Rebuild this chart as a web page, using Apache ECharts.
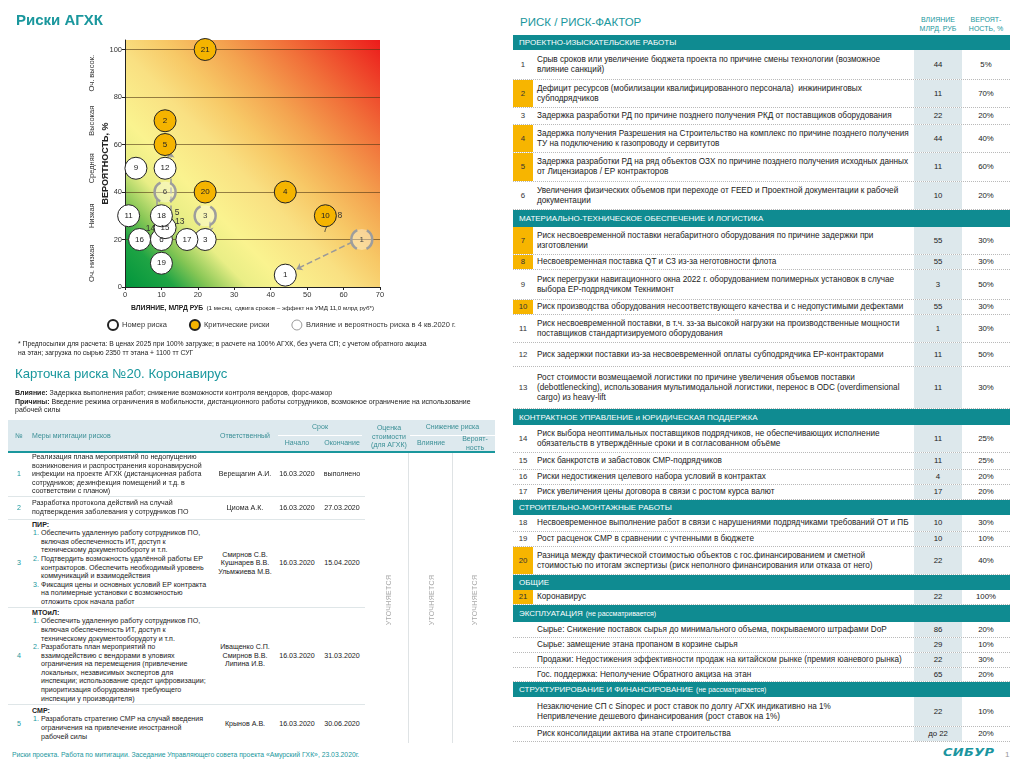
<!DOCTYPE html>
<html><head><meta charset="utf-8">
<script src="https://cdn.jsdelivr.net/npm/echarts@6/dist/echarts.min.js"></script>
<style>
html,body{margin:0;padding:0;background:#fff;}
body{width:1024px;height:767px;position:relative;overflow:hidden;font-family:"Liberation Sans",Arial,sans-serif;color:#222;}
.abs{position:absolute;}
#chart{position:absolute;left:0;top:0;width:500px;height:332px;}
.teal{color:#1a979d;}
#rt{position:absolute;left:513px;top:35px;width:497px;}
.r{display:flex;box-sizing:border-box;border-bottom:1px dotted #b9b9b9;font-size:8.2px;line-height:10px;}
.r .n{width:20px;display:flex;align-items:center;justify-content:center;color:#333;font-size:7.8px;}
.r .n.c{background:#f7b500;}
.r .t{flex:1;display:flex;align-items:center;padding-left:4px;padding-right:4px;}
.r .i{width:48px;display:flex;align-items:center;justify-content:center;background:#dde8ec;font-size:7.8px;}
.r .p{width:48px;display:flex;align-items:center;justify-content:center;font-size:7.8px;}
.s{background:#0f8b91;color:#fff;font-size:8px;padding-left:6px;box-sizing:border-box;display:flex;align-items:center;}
.s small{font-size:7px;margin-left:3px;}
.lt{font-size:7.1px;line-height:8.6px;}
.hd{position:absolute;color:#3a8f96;font-size:7px;line-height:8.5px;text-align:center;}
.row{position:absolute;left:8px;width:357px;box-sizing:border-box;border-bottom:1px solid #dfe6e8;}
.cell{position:absolute;top:0;bottom:0;display:flex;align-items:center;}
.cc{justify-content:center;text-align:center;}
ol{margin:0;padding-left:9px;padding-right:11px;}
ol li::marker{color:#1a979d;}
.vt{position:absolute;top:600px;color:#a8a8a8;font-size:7px;letter-spacing:0.3px;transform:translate(-50%,-50%) rotate(-90deg);white-space:nowrap;}
</style></head>
<body>
<div id="chart"></div>

<div class="abs" style="left:18px;top:339px;font-size:6.8px;line-height:9px;color:#222;">* Предпосылки для расчета: В ценах 2025 при 100% загрузке; в расчете на 100% АГХК, без учета СП; с учетом обратного акциза<br>на этан; загрузка по сырью 2350 тт этана + 1100 тт СУГ</div>

<div class="abs teal" style="left:15px;top:366px;font-size:13.2px;">Карточка риска №20. Коронавирус</div>
<div class="abs" style="left:15px;top:389px;width:480px;font-size:7px;line-height:8.7px;"><b>Влияние:</b> Задержка выполнения работ; снижение возможности контроля вендоров, форс-мажор<br><b>Причины:</b> Введение режима ограничения в мобильности, дистанционного работы сотрудников, возможное ограничение на использование рабочей силы</div>

<!-- left table header -->
<div class="abs" style="left:8px;top:420px;width:487px;height:31px;background:#dde9ee;"></div>
<div class="abs" style="left:8px;top:451px;width:487px;height:2px;background:#1a979d;"></div>
<div class="abs" style="left:278px;top:435px;width:84px;height:1px;background:#fff;"></div>
<div class="abs" style="left:410px;top:435px;width:85px;height:1px;background:#fff;"></div>
<div class="hd" style="left:9px;width:20px;top:432px;">№</div>
<div class="hd" style="left:32px;top:432px;text-align:left;">Меры митигации рисков</div>
<div class="hd" style="left:215px;width:60px;top:432px;">Ответственный</div>
<div class="hd" style="left:278px;width:84px;top:423px;">Срок</div>
<div class="hd" style="left:277px;width:40px;top:439px;">Начало</div>
<div class="hd" style="left:318px;width:48px;top:439px;">Окончание</div>
<div class="hd" style="left:366px;width:46px;top:424px;">Оценка<br>стоимости<br>(для АГХК)</div>
<div class="hd" style="left:410px;width:85px;top:423px;">Снижение риска</div>
<div class="hd" style="left:410px;width:42px;top:439px;">Влияние</div>
<div class="hd" style="left:454px;width:42px;top:435px;">Вероят-<br>ность</div>

<!-- left table body -->
<div id="lt"></div>
<div class="abs" style="left:408px;top:453px;width:1px;height:290px;background:#dfe3e5;"></div>
<div class="abs" style="left:452px;top:453px;width:1px;height:290px;background:#dfe3e5;"></div>
<div class="vt" style="left:388px;">УТОЧНЯЕТСЯ</div>
<div class="vt" style="left:431px;">УТОЧНЯЕТСЯ</div>
<div class="vt" style="left:474px;">УТОЧНЯЕТСЯ</div>

<div class="abs teal" style="left:12px;top:751px;font-size:6.8px;">Риски проекта. Работа по митигации. Заседание Управляющего совета проекта «Амурский ГХК», 23.03.2020г.</div>

<!-- right panel -->
<div class="abs teal" style="left:520px;top:16px;font-size:11.5px;">РИСК / РИСК-ФАКТОР</div>
<div class="abs teal" style="left:914px;width:48px;top:16px;font-size:7px;line-height:8.5px;text-align:center;">ВЛИЯНИЕ<br>МЛРД. РУБ</div>
<div class="abs teal" style="left:962px;width:48px;top:16px;font-size:7px;line-height:8.5px;text-align:center;">ВЕРОЯТ-<br>НОСТЬ, %</div>
<div id="rt"></div>

<div class="abs" style="left:943px;top:745px;font-size:13px;font-weight:900;font-style:italic;color:#1b95a0;font-family:'DejaVu Sans',sans-serif;letter-spacing:0.3px;transform:scaleY(0.85);">СИБУР</div>
<div class="abs" style="left:1005px;top:750px;font-size:8px;color:#999;">1</div>

<script>
// ---------- chart data ----------
const probBands = ['Оч. низкая', 'Низкая', 'Средняя', 'Высокая', 'Оч. высок.'];
const probBandCenters = [10, 30, 50, 70, 90];
// [impact, probability, risk number]
const regularRisks = [[44,5,'1'],[22,20,'3'],[10,20,'6'],[3,50,'9'],[1,30,'11'],[11,50,'12'],[11,25,'15'],[4,20,'16'],[17,20,'17'],[10,30,'18'],[10,10,'19']];
const criticalRisks = [[11,70,'2'],[44,40,'4'],[11,60,'5'],[55,30,'10'],[22,40,'20'],[22,100,'21']];
const previousRisks = [[65,20,'1'],[22,30,'3'],[11,40,'6']];
const extraLabels = [[59,30,'8'],[55,24,'7'],[14.3,31.5,'5'],[15,27.5,'13'],[7,24.5,'14']];
const moves = [[[62.5,19],[47,7.5]],[[12.5,28],[12.5,57]],[[8.8,37],[8.8,26.5]],[[23.2,27.5],[23.2,22.5]]];

const chart = echarts.init(document.getElementById('chart'));
const teal = '#1a979d';
const circleLabel = {show:true, position:'inside', formatter:p=>p.value[2], fontSize:8, color:'#222'};
chart.setOption({
  animation:false,
  textStyle:{fontFamily:'Liberation Sans, Arial, sans-serif'},
  title:{text:'Риски АГХК', left:11, top:8, textStyle:{fontSize:15, fontWeight:'bold', color:teal}},
  grid:{left:125, top:40, width:255, height:247, show:true, borderWidth:0,
    backgroundColor:{type:'linear', x:0, y:1, x2:1, y2:0, colorStops:[
      {offset:0, color:'#00953c'},{offset:0.1, color:'#1fa444'},{offset:0.17, color:'#86c655'},
      {offset:0.25, color:'#e9ee86'},{offset:0.33, color:'#faf38f'},{offset:0.46, color:'#f9e082'},
      {offset:0.56, color:'#f7c866'},{offset:0.67, color:'#f4a450'},{offset:0.8, color:'#f1713a'},{offset:0.91, color:'#ee4229'},{offset:1, color:'#ec1b1b'}]}},
  legend:{left:102, top:314, itemWidth:10, itemHeight:10, itemGap:22, selectedMode:false,
    textStyle:{fontSize:7.5, color:'#333', padding:[0,0,0,-1]},
    data:[{name:'Номер риска'},{name:'Критические риски'},
      {name:'Влияние и вероятность риска в 4 кв.2020 г.', itemStyle:{borderType:'solid', borderWidth:1, borderColor:'#999', color:'#fff'}}]},
  xAxis:{type:'value', min:0, max:70, interval:10,
    axisLine:{lineStyle:{color:'#222'}}, axisTick:{show:true, length:3, lineStyle:{color:'#222'}},
    splitLine:{show:false}, axisLabel:{fontSize:7.5, color:'#333', margin:4},
    name:'{b|ВЛИЯНИЕ, МЛРД РУБ} {n|(1 месяц  сдвига сроков – эффект на УМД 11,0 млрд руб*)}',
    nameLocation:'middle', nameGap:15, nameMoveOverlap:false,
    nameTextStyle:{rich:{b:{fontSize:6.8, fontWeight:'bold', color:'#222'}, n:{fontSize:6.2, color:'#222'}}}},
  yAxis:[
    {type:'value', min:0, max:104, interval:20,
     axisLine:{show:true, lineStyle:{color:'#222'}}, axisTick:{show:true, length:3, lineStyle:{color:'#222'}},
     axisLabel:{fontSize:7.5, color:'#333', margin:3, showMaxLabel:false, formatter:v=>(v%20===0?String(v):'')},
     splitLine:{show:true, showMaxLine:false, lineStyle:{color:'rgba(80,55,20,0.6)', width:1}},
     name:'ВЕРОЯТНОСТЬ, %', nameLocation:'middle', nameGap:15, nameRotate:90, nameMoveOverlap:false,
     nameTextStyle:{fontSize:9, fontWeight:'bold', color:'#222'}},
    {type:'value', min:0, max:104, interval:10, position:'left', offset:29,
     axisLine:{show:false}, axisTick:{show:false}, splitLine:{show:false},
     axisLabel:{rotate:90, margin:0, fontSize:7.5, color:'#333', showMaxLabel:false,
       formatter:v=>{const k=probBandCenters.indexOf(v); return k>=0?probBands[k]:'';}}}
  ],
  series:[
    {type:'lines', coordinateSystem:'cartesian2d', silent:true, z:2,
     symbol:['none','arrow'], symbolSize:6,
     lineStyle:{color:'#9a9a9a', width:1.5, type:'dashed', opacity:1},
     data:moves.map(c=>({coords:c}))},
    {name:'Влияние и вероятность риска в 4 кв.2020 г.', type:'scatter', clip:false, z:3, symbolSize:21,
     itemStyle:{color:'rgba(255,255,255,0.35)', borderColor:'#9d9d9d', borderWidth:2.5, borderType:[23,10], borderDashOffset:11.5, opacity:1},
     label:Object.assign({}, circleLabel, {color:'#444'}), data:previousRisks},
    {name:'Номер риска', type:'scatter', clip:false, z:4, symbolSize:22,
     itemStyle:{color:'#fff', borderColor:'#222', borderWidth:1, opacity:1},
     label:circleLabel, data:regularRisks},
    {name:'Критические риски', type:'scatter', clip:false, z:4, symbolSize:22,
     itemStyle:{color:'#f5b400', borderColor:'#222', borderWidth:1, opacity:1},
     label:circleLabel, data:criticalRisks},
    {type:'scatter', clip:false, z:5, symbolSize:2, itemStyle:{color:'rgba(0,0,0,0)', borderWidth:0}, silent:true,
     label:{show:true, position:'inside', formatter:p=>p.value[2], fontSize:8.5, color:'#333', opacity:1}, data:extraLabels}
  ]
});

// ---------- right risk table ----------
const riskRows = [
 ['s','ПРОЕКТНО-ИЗЫСКАТЕЛЬСКИЕ РАБОТЫ','',15],
 ['1','Срыв сроков или увеличение бюджета проекта по причине смены технологии (возможное влияние санкций)','44','5%',30,0],
 ['2','Дефицит ресурсов (мобилизации квалифицированного персонала)&nbsp; инжиниринговых субподрядчиков','11','70%',28,1],
 ['3','Задержка разработки РД по причине позднего получения РКД от поставщиков оборудования','22','20%',17,0],
 ['4','Задержка получения Разрешения на Строительство на комплекс по причине позднего получения ТУ на подключению к газопроводу и сервитутов','44','40%',28,1],
 ['5','Задержка разработки РД на ряд объектов ОЗХ по причине позднего получения исходных данных от Лицензиаров / ЕР контракторов','11','60%',29,1],
 ['6','Увеличения физических объемов при переходе от FEED и Проектной документации к рабочей документации','10','20%',28,0],
 ['s','МАТЕРИАЛЬНО-ТЕХНИЧЕСКОЕ ОБЕСПЕЧЕНИЕ И ЛОГИСТИКА','',17],
 ['7','Риск несвоевременной поставки негабаритного оборудования по причине задержки при изготовлении','55','30%',28,1],
 ['8','Несвоевременная поставка QT и C3 из-за неготовности флота','55','30%',15,1],
 ['9','Риск перегрузки навигационного окна 2022 г. оборудованием полимерных установок в случае выбора ЕР-подрядчиком Текнимонт','3','50%',30,0],
 ['10','Риск производства оборудования несоответствующего качества и с недопустимыми дефектами','55','30%',15,1],
 ['11','Риск несвоевременной поставки, в т.ч. зз-за высокой нагрузки на производственные мощности поставщиков стандартизируемого оборудования','1','30%',28,0],
 ['12','Риск задержки поставки из-за несвоевременной оплаты субподрядчика ЕР-контракторами','11','50%',24,0],
 ['13','Рост стоимости возмещаемой логистики по причине увеличения объемов поставки (debottlenecking), использования мультимодальной логистики, перенос в ODC (overdimensional cargo) из heavy-lift','11','30%',42,0],
 ['s','КОНТРАКТНОЕ УПРАВЛЕНИЕ и ЮРИДИЧЕСКАЯ ПОДДЕРЖКА','',16],
 ['14','Риск выбора неоптимальных поставщиков подрядчиков, не обеспечивающих исполнение обязательств в утверждённые сроки и в согласованном объёме','11','25%',28,0],
 ['15','Риск банкротств и забастовок СМР-подрядчиков','11','25%',17,0],
 ['16','Риски недостижения целевого набора условий в контрактах','4','20%',15,0],
 ['17','Риск увеличения цены договора в связи с ростом курса валют','17','20%',15,0],
 ['s','СТРОИТЕЛЬНО-МОНТАЖНЫЕ РАБОТЫ','',15],
 ['18','Несвоевременное выполнение работ в связи с нарушениями подрядчиками требований ОТ и ПБ','10','30%',17,0],
 ['19','Рост расценок СМР в сравнении с учтенными в бюджете','10','10%',15,0],
 ['20','Разница между фактической стоимостью объектов с гос.финансированием и сметной стоимостью по итогам экспертизы (риск неполного финансирования или отказа от него)','22','40%',28,1],
 ['s','ОБЩИЕ','',15],
 ['21','Коронавирус','22','100%',15,1],
 ['s','ЭКСПЛУАТАЦИЯ','(не рассматривается)',17],
 ['','Сырье: Снижение поставок сырья до минимального объема, покрываемого штрафами DoP','86','20%',16,0],
 ['','Сырье: замещение этана пропаном в корзине сырья','29','10%',15,0],
 ['','Продажи: Недостижения эффективности продаж на китайском рынке (премия юаневого рынка)','22','30%',15,0],
 ['','Гос. поддержка: Неполучение Обратного акциза на этан','65','20%',14,0],
 ['s','СТРУКТУРИРОВАНИЕ И ФИНАНСИРОВАНИЕ','(не рассматривается)',15],
 ['','Незаключение СП с Sinopec и рост ставок по долгу АГХК индикативно на 1%<br>Непривлечение дешевого финансирования (рост ставок на 1%)','22','10%',30,0],
 ['','Риск консолидации актива на этапе строительства','до 22','20%',15,0]
];
document.getElementById('rt').innerHTML = riskRows.map(r=>{
  if(r[0]==='s') return `<div class="s" style="height:${r[3]}px;">${r[1]}${r[2]?'<small>'+r[2]+'</small>':''}</div>`;
  return `<div class="r" style="height:${r[4]}px;"><div class="n${r[5]?' c':''}">${r[0]}</div><div class="t">${r[1]}</div><div class="i">${r[2]}</div><div class="p">${r[3]}</div></div>`;
}).join('');

// ---------- left mitigation table ----------
const mitRows = [
 ['1','Реализация плана мероприятий по недопущению возникновения и распространения коронавирусной инфекции на проекте АГХК (дистанционная работа сотрудников; дезинфекция помещений и т.д. в соответствии с планом)','Верещагин А.И.','16.03.2020','выполнено',453,44],
 ['2','Разработка протокола действий на случай подтверждения заболевания у сотрудников ПО','Циома А.К.','16.03.2020','27.03.2020',497,23],
 ['3','<b>ПИР:</b><ol><li>Обеспечить удаленную работу сотрудников ПО, включая обеспеченность ИТ, доступ к техническому документообороту и т.п.</li><li>Подтвердить возможность удалённой работы ЕР контракторов. Обеспечить необходимый уровень коммуникаций и взаимодействия</li><li>Фиксация цены и основных условий ЕР контракта на полимерные установки с возможностью отложить срок начала работ</li></ol>','Смирнов С.В.<br>Кушнарев В.В.<br>Ульмжиева М.В.','16.03.2020','15.04.2020',520,88],
 ['4','<b>МТОиЛ:</b><ol><li>Обеспечить удаленную работу сотрудников ПО, включая обеспеченность ИТ, доступ к техническому документооборудоту и т.п.</li><li>Разработать план мероприятий по взаимодействию с вендорами в уловиях ограничения на перемещения (привлечение локальных, независимых экспертов для инспекции; использование средст цифровизации; приоритизация оборудования требующего инспекции у производителя)</li></ol>','Иващенко С.П.<br>Смирнов В.В.<br>Липина И.В.','16.03.2020','31.03.2020',608,97],
 ['5','<b>СМР:</b><ol><li>Разработать стратегию СМР на случай введения ограничения на привлечение иностранной рабочей силы</li></ol>','Крынов А.В.','16.03.2020','30.06.2020',705,38]
];
document.getElementById('lt').innerHTML = mitRows.map((r,i)=>`<div class="row lt" style="top:${r[5]}px;height:${r[6]}px;${i===mitRows.length-1?'border-bottom:none;':''}">
 <div class="cell cc teal" style="left:0;width:22px;">${r[0]}</div>
 <div class="cell" style="left:24px;width:186px;"><div>${r[1]}</div></div>
 <div class="cell cc" style="left:207px;width:60px;">${r[2]}</div>
 <div class="cell cc" style="left:268px;width:42px;">${r[3]}</div>
 <div class="cell cc" style="left:311px;width:46px;">${r[4]}</div>
</div>`).join('');
</script>
</body></html>
